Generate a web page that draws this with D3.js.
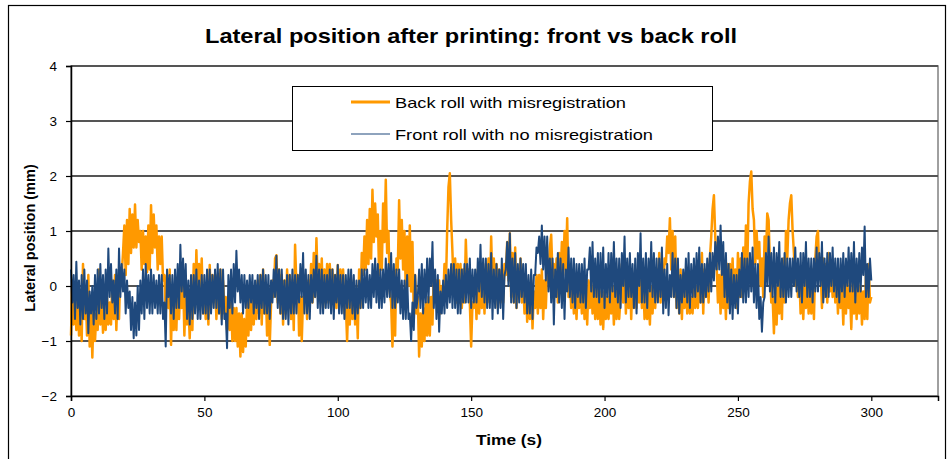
<!DOCTYPE html>
<html><head><meta charset="utf-8">
<script src="https://cdn.jsdelivr.net/npm/d3@7"></script>
<style>body{margin:0;background:#fff;} text{font-family:Arial,"Liberation Sans",sans-serif;}</style>
</head><body><svg id="c" width="951" height="459"></svg>
<script>
const title = "Lateral position after printing: front vs back roll";
const xLabel = "Time (s)";
const yLabel = "Lateral position (mm)";
const seriesNames = ["Back roll with misregistration", "Front roll with no misregistration"];
const seriesColors = ["#FF9900", "#1F497D"];
const xTicks = [0, 50, 100, 150, 200, 250, 300];
const yTicks = [-2, -1, 0, 1, 2, 3, 4];
const timeStep = 0.5; // seconds between samples

// Back roll (orange), one row = 10 s
const backRoll = [
-0.9,0.1,-0.7,-0.2,-0.8,0.0,-0.9,-0.2,-1.0,0.4,-0.6,-0.1,-0.9,0.2,-1.1,-0.3,-1.3,-0.4,-1.0,-0.5,
-0.8,0.3,-0.7,-0.1,-0.85,-0.5,-0.8,-0.2,-0.7,-0.3,-0.7,0.1,-0.6,0.2,-0.8,0.0,-0.6,0.3,0.2,0.6,
1.1,0.2,1.2,0.4,1.4,0.6,1.3,0.7,1.48,0.7,1.2,0.8,1.0,0.3,1.0,0.4,0.9,0.25,1.1,0.3,
1.47,0.6,1.3,0.7,1.1,0.3,0.9,0.4,0.9,0.1,0.2,-0.5,0.2,-0.4,0.3,-1.07,-0.1,-0.8,-0.2,-0.8,
0.1,-0.6,0.1,-0.4,0.2,-0.9,-0.1,-0.7,-0.3,-0.95,-0.2,-0.8,0.4,-0.4,0.65,-0.3,0.4,-0.2,0.5,-0.5,
0.0,-0.6,0.1,-0.7,0.38,-0.4,0.2,-0.3,0.2,-0.6,0.2,-0.5,0.3,-0.6,0.1,-0.5,-0.2,-0.8,-0.3,-0.8,
-0.3,-1.0,-0.4,-1.0,-0.4,-1.1,-0.5,-1.28,-0.5,-1.2,-0.6,-1.1,-0.3,-0.9,-0.2,-0.8,-0.2,-0.7,-0.1,-0.6,
0.1,-0.5,0.2,-0.7,0.3,-0.5,0.0,-0.9,-0.2,-1.07,-0.3,0.1,-0.2,0.5,0.56,-0.3,0.3,-0.5,0.2,-0.7,
0.1,-0.5,0.3,-0.4,0.2,-0.6,0.1,-0.8,0.75,0.0,0.2,-0.9,-0.2,-1.0,-0.2,-0.3,0.2,-0.6,0.1,-0.3,
0.4,-0.3,0.6,-0.2,0.87,0.0,0.4,-0.3,0.5,-0.4,0.3,-0.3,0.4,-0.3,0.4,-0.2,0.3,-0.3,0.2,-0.4,
0.38,-0.3,0.3,-0.3,0.3,-0.5,-0.3,-1.0,-0.2,-0.7,0.0,-0.6,0.1,-0.7,-0.2,-0.95,0.3,-0.4,0.6,0.2,
0.9,0.3,1.2,0.4,1.4,0.5,1.75,0.8,1.5,0.9,1.3,0.2,1.0,0.3,1.5,0.8,1.93,0.6,1.0,-0.1,
-0.3,-1.1,-0.2,-0.9,0.5,0.3,1.56,0.5,1.2,0.3,1.0,-0.1,0.9,0.0,1.1,-0.1,0.8,-0.6,0.2,-0.5,
-0.2,-1.28,-0.5,-1.1,-0.4,-1.0,-0.3,-0.9,-0.2,-0.9,-0.2,-0.7,0.26,-0.3,0.1,-0.4,0.1,-0.5,0.0,-0.3,
0.4,-0.1,1.0,1.8,2.05,1.2,0.6,-0.1,0.5,-0.3,0.4,-0.3,0.4,-0.4,0.3,-0.3,0.84,0.1,0.3,-0.3,
-1.1,-0.3,-0.4,0.2,-0.6,0.3,-0.5,0.2,-0.4,0.3,-0.5,0.4,-0.3,0.5,-0.3,0.9,0.0,0.5,-0.2,0.4,
-0.4,0.3,-0.3,0.3,-0.3,0.4,0.2,0.8,0.1,0.96,-0.2,0.6,-0.3,0.7,-0.4,0.3,-0.2,0.5,-0.3,0.1,
-0.5,0.2,-0.65,0.0,-0.6,0.1,-0.77,-0.1,-0.4,0.2,-0.5,0.2,-0.4,0.3,-0.6,0.1,-0.4,0.3,0.1,0.7,
0.93,0.2,0.4,-0.2,0.5,-0.3,0.6,0.1,0.8,0.2,1.0,0.3,1.23,-0.2,0.2,-0.4,0.1,-0.5,0.0,-0.6,
0.1,-0.4,0.0,-0.5,0.1,-0.6,0.0,-0.7,0.1,-0.4,0.1,-0.5,0.0,-0.6,0.0,-0.6,-0.1,-0.7,0.0,-0.78,
-0.1,-0.6,-0.2,-0.6,0.0,-0.5,0.0,-0.7,-0.1,-0.6,0.1,-0.6,-0.2,0.4,-0.3,0.5,-0.5,0.2,-0.4,0.3,
-0.6,0.2,-0.4,0.3,-0.4,0.2,-0.3,0.2,-0.4,0.1,-0.6,-0.1,-0.6,-0.1,-0.7,0.0,-0.5,0.1,-0.4,0.3,
-0.2,0.6,-0.3,0.4,-0.1,0.5,0.4,0.9,0.6,1.23,0.3,1.0,-0.2,0.9,-0.4,0.2,-0.5,0.3,-0.6,0.1,
-0.4,0.2,-0.5,0.0,-0.5,-0.2,-0.5,0.1,-0.4,0.0,-0.4,0.3,-0.3,0.6,-0.5,0.3,-0.2,0.4,-0.3,0.5,
0.9,1.4,1.65,0.9,0.4,-0.3,0.2,-0.5,0.3,-0.4,0.2,-0.6,0.4,-0.4,0.4,-0.3,0.5,-0.3,0.3,-0.4,
0.6,-0.2,0.5,-0.2,0.7,0.0,1.1,0.3,1.5,1.9,2.08,1.4,1.2,0.4,1.0,0.5,0.8,0.0,0.5,-0.2,
0.9,0.5,1.32,1.2,0.4,-0.3,-0.2,-0.86,0.0,-0.7,0.1,-0.5,0.2,-0.6,0.5,-0.3,1.0,0.5,1.2,1.5,
1.65,1.0,0.6,0.0,0.4,-0.2,0.2,-0.5,0.0,-0.6,0.1,-0.4,0.2,-0.5,0.2,-0.5,0.3,-0.6,0.5,0.9,
1.0,0.2,0.3,-0.4,0.5,-0.2,0.4,-0.3,0.6,-0.1,0.3,-0.2,0.4,-0.3,0.2,-0.5,0.3,-0.4,0.0,-0.7,
0.2,-0.5,0.1,-0.4,-0.1,-0.78,0.1,-0.5,0.1,-0.6,0.2,-0.5,0.0,-0.7,-0.1,-0.6,0.2,-0.6,0.4,-0.3,
-0.2];

// Front roll (blue), one row = 10 s
const frontRoll = [
0.3,-0.3,0.2,-0.6,0.44,-0.4,0.1,-0.7,0.2,-0.6,0.3,-0.5,0.1,-0.86,-0.1,-0.5,0.0,-0.7,0.2,-0.6,
0.3,-0.5,0.4,-0.4,0.2,-0.6,0.3,-0.5,0.68,-0.2,0.4,-0.3,0.1,-0.5,0.3,-0.6,0.68,-0.2,0.4,-0.1,
0.3,-0.5,0.1,-0.4,-0.1,-0.8,-0.2,-0.95,-0.3,-0.9,0.0,-0.8,0.1,-0.5,0.3,-0.6,0.4,-0.4,0.2,-0.5,
0.3,-0.5,0.2,-0.4,0.1,-0.5,0.2,-0.5,0.2,-0.6,-0.3,-1.1,0.3,-0.2,0.2,-0.5,0.2,-0.6,0.3,-0.4,
0.4,-0.4,0.75,-0.1,0.5,-0.2,0.4,-0.6,0.1,-0.7,0.2,-0.6,0.2,-0.5,0.3,-0.6,0.1,-0.6,0.2,-0.5,
0.2,-0.5,0.3,-0.6,0.3,-0.5,0.2,-0.4,0.3,-0.4,0.4,-0.5,0.3,-0.7,0.3,-0.6,-0.5,-1.13,0.2,-0.4,
0.3,-0.5,0.4,-0.3,0.64,-0.1,0.3,-0.3,0.2,-0.5,0.2,-0.4,0.1,-0.4,0.2,-0.3,0.2,-0.5,0.1,-0.4,
0.2,-0.6,0.2,-0.4,0.3,-0.5,0.2,-0.5,0.2,-0.6,0.1,-0.3,0.3,-0.2,0.55,-0.4,0.3,-0.5,0.3,-0.6,
0.1,-0.6,0.2,-0.7,0.2,-0.5,0.3,-0.5,0.2,-0.5,0.2,-0.3,0.4,-0.2,0.6,-0.5,0.3,-0.5,0.2,-0.6,
0.2,-0.3,0.3,-0.2,0.55,-0.4,0.3,-0.5,0.3,-0.5,0.2,-0.4,0.2,-0.4,0.3,-0.5,0.3,-0.6,0.2,-0.3,
0.38,-0.5,0.2,-0.5,0.2,-0.6,0.2,-0.4,0.3,-0.4,0.3,-0.5,0.2,-0.6,0.1,-0.5,0.1,-0.4,0.3,-0.4,
0.3,-0.3,0.3,-0.4,0.2,-0.4,0.4,-0.2,0.5,-0.3,0.4,-0.4,0.3,-0.4,0.3,-0.3,0.5,-0.2,0.4,-0.2,
0.6,-0.4,0.4,-0.4,0.3,-0.3,0.3,-0.5,0.1,-0.6,0.1,-0.6,0.2,-0.6,-0.5,-1.0,-0.3,-0.8,0.2,-0.4,
-0.2,0.3,-0.4,0.4,-0.5,0.3,-0.3,0.5,-0.3,0.5,0.0,0.8,-0.4,0.3,-0.6,0.2,-0.83,-0.1,-0.5,0.1,
-0.5,0.2,-0.4,0.3,-0.3,0.4,-0.4,0.4,-0.4,0.3,-0.5,0.3,-0.5,0.3,-0.3,0.4,-0.3,0.4,-0.3,0.5,
-0.4,0.3,-0.3,0.3,-0.3,0.5,-0.1,0.75,-0.2,0.5,-0.3,0.5,-0.4,0.4,-0.4,0.6,-0.6,0.3,-0.4,0.4,
-0.5,0.3,-0.4,0.5,-0.6,0.2,0.3,0.8,0.0,0.96,-0.3,0.5,-0.3,0.6,-0.4,0.4,-0.3,0.5,-0.2,0.4,
-0.3,0.4,-0.5,0.2,-0.5,0.3,-0.6,0.2,0.2,0.7,0.6,0.9,0.4,1.1,0.3,0.9,0.1,0.9,-0.1,0.5,
-0.3,0.5,-0.7,0.3,-0.2,0.6,-0.3,0.5,-0.4,0.4,-0.6,0.3,-0.1,0.7,-0.2,0.5,-0.3,0.5,-0.4,0.4,
-0.2,0.4,-0.3,0.4,-0.3,0.5,-0.4,0.3,0.3,0.7,-0.1,0.8,-0.2,0.5,-0.2,0.6,-0.3,0.6,-0.2,0.7,
-0.4,0.4,-0.2,0.6,-0.3,0.6,-0.1,0.8,-0.2,0.5,-0.3,0.5,-0.4,0.6,0.0,0.9,-0.3,0.5,-0.2,0.6,
-0.2,0.4,-0.4,0.5,-0.5,0.6,0.0,0.96,-0.3,0.5,-0.3,0.6,-0.4,0.5,-0.1,0.8,-0.2,0.6,-0.3,0.5,
-0.3,0.5,-0.2,0.7,-0.5,0.3,-0.4,0.4,-0.53,0.2,-0.2,0.6,-0.2,0.5,-0.4,0.5,-0.5,0.2,-0.3,0.3,
-0.2,0.5,-0.3,0.6,-0.4,0.4,-0.2,0.5,-0.2,0.6,-0.1,0.7,-0.3,0.4,-0.3,0.4,-0.2,0.5,-0.1,0.6,
-0.1,0.6,0.1,0.8,0.3,0.9,0.3,1.1,0.2,0.8,-0.2,0.6,-0.3,0.4,-0.5,0.3,-0.6,0.2,-0.4,0.2,
-0.5,0.3,-0.2,0.6,-0.3,0.5,-0.3,0.5,-0.2,0.6,-0.1,0.7,-0.3,0.4,-0.4,0.4,-0.6,-0.2,-0.83,-0.3,
-0.2,0.6,0.0,0.9,-0.1,0.6,-0.2,0.7,-0.3,0.6,0.0,0.8,-0.2,0.5,-0.2,0.6,-0.3,0.5,-0.2,0.5,
-0.2,0.5,0.0,0.7,-0.1,0.5,-0.2,0.6,-0.3,0.6,0.0,0.8,-0.2,0.5,-0.2,0.5,-0.3,0.5,-0.1,0.7,
-0.1,0.6,0.0,0.8,-0.3,0.5,-0.2,0.6,-0.2,0.6,0.0,0.7,-0.1,0.5,-0.2,0.5,-0.3,0.5,-0.1,0.6,
-0.2,0.5,0.0,0.7,-0.1,0.6,-0.1,0.8,-0.3,0.5,-0.1,0.6,-0.1,0.7,0.2,1.08,-0.2,0.4,-0.2,0.5,
0.1];

const svg = d3.select("#c");
const plot = {left: 71, right: 938, top: 66, bottom: 396};

// outer frame
svg.append("rect").attr("x", 8.5).attr("y", 5.5).attr("width", 937).attr("height", 470)
  .attr("fill", "#fff").attr("stroke", "#000").attr("stroke-width", 1.2);

const x = d3.scaleLinear().domain([0, 325]).range([plot.left, plot.right]);
const y = d3.scaleLinear().domain([-2, 4]).range([plot.bottom, plot.top]);

// plot area border
svg.append("rect").attr("x", plot.left).attr("y", plot.top)
  .attr("width", plot.right - plot.left).attr("height", plot.bottom - plot.top)
  .attr("fill", "none").attr("stroke", "#808080").attr("stroke-width", 1.5);

// gridlines
svg.append("g").selectAll("line").data(yTicks.filter(d => d > -2)).join("line")
  .attr("x1", plot.left).attr("x2", plot.right)
  .attr("y1", d => y(d)).attr("y2", d => y(d))
  .attr("stroke", "#555").attr("stroke-width", 1.8);

// series
const toPts = arr => arr.map((v, i) => [i * timeStep, v]);
const line = d3.line().x(d => x(d[0])).y(d => y(d[1]));
svg.append("path").datum(toPts(backRoll)).attr("d", line)
  .attr("fill", "none").attr("stroke", seriesColors[0]).attr("stroke-width", 2.5)
  .attr("stroke-linejoin", "round");
svg.append("path").datum(toPts(frontRoll)).attr("d", line)
  .attr("fill", "none").attr("stroke", seriesColors[1]).attr("stroke-width", 2.0)
  .attr("stroke-linejoin", "round");

// axes
const yAxis = d3.axisLeft(y).tickValues(yTicks).tickSize(5).tickPadding(9).tickFormat(d3.format("d"));
const gy = svg.append("g").attr("transform", `translate(${plot.left},0)`).call(yAxis);
const xAxis = d3.axisBottom(x).tickValues(xTicks).tickSize(5).tickPadding(6).tickFormat(d3.format("d"));
const gx = svg.append("g").attr("transform", `translate(0,${plot.bottom})`).call(xAxis);
[gx, gy].forEach(g => {
  g.select(".domain").attr("stroke", "#000").attr("stroke-width", 1.5);
  g.selectAll(".tick line").attr("stroke", "#000").attr("stroke-width", 1.2);
  g.selectAll(".tick text").attr("font-size", 13.5).attr("fill", "#000")
    .attr("font-family", "Arial, 'Liberation Sans', sans-serif");
});

// title & labels
svg.append("text").attr("x", 471).attr("y", 43).attr("text-anchor", "middle")
  .attr("font-size", 21).attr("font-weight", "bold")
  .attr("textLength", 532).attr("lengthAdjust", "spacingAndGlyphs").text(title);
svg.append("text").attr("x", 509).attr("y", 445).attr("text-anchor", "middle")
  .attr("font-size", 14).attr("font-weight", "bold")
  .attr("textLength", 66).attr("lengthAdjust", "spacingAndGlyphs").text(xLabel);
svg.append("text").attr("transform", "translate(35,238) rotate(-90)").attr("text-anchor", "middle")
  .attr("font-size", 14.5).attr("font-weight", "bold").text(yLabel);

// legend
const lg = svg.append("g");
lg.append("rect").attr("x", 292.5).attr("y", 86.5).attr("width", 420).attr("height", 64)
  .attr("fill", "#fff").attr("stroke", "#000").attr("stroke-width", 1);
const legendRows = [{name: seriesNames[0], color: seriesColors[0], w: 2.8, y: 102, ty: 108, len: 231},
                    {name: seriesNames[1], color: seriesColors[1], w: 1.2, y: 134, ty: 140, len: 258}];
legendRows.forEach(r => {
  lg.append("line").attr("x1", 351).attr("x2", 390).attr("y1", r.y).attr("y2", r.y)
    .attr("stroke", r.color).attr("stroke-width", r.w);
  lg.append("text").attr("x", 395).attr("y", r.ty).attr("font-size", 15)
    .attr("textLength", r.len).attr("lengthAdjust", "spacingAndGlyphs").text(r.name);
});
</script></body></html>
